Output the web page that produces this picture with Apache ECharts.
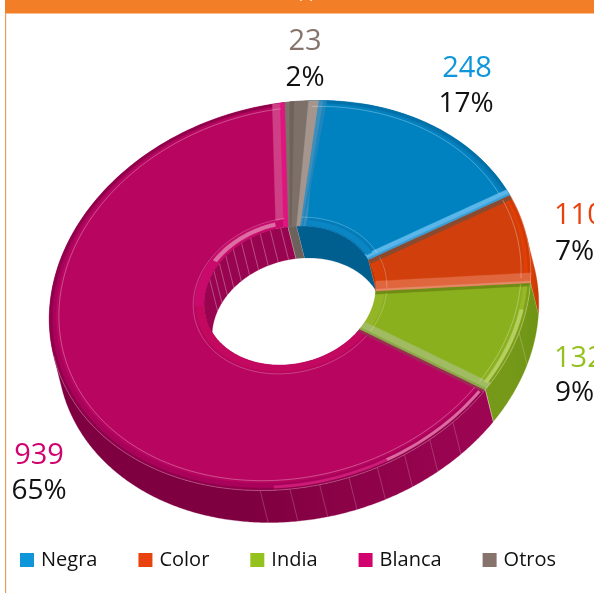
<!DOCTYPE html>
<html><head><meta charset="utf-8">
<style>html,body{margin:0;padding:0;background:#fff;overflow:hidden}#c{width:594px;height:593px}</style>
<script src="https://cdn.jsdelivr.net/npm/echarts@6/dist/echarts.min.js"></script>
</head><body><div id="c"></div>
<script>
var categories = ['Negra','Color','India','Blanca','Otros'];
var values = [248,110,132,939,23];
var percents = [17,7,9,65,2];
var labelColors = ['#0f96da','#e8420f','#95c11f','#d0036f','#85736c'];
var legendColors = ['#0f96da','#e8420f','#95c11f','#d0036f','#85736c'];
var faceColors = ['#0081c0','#d03f0c','#8ab01e','#b80660','#85776f'];
var rimColors = ['#0a78b4','#e23f04','#98b82a','#a8025a','#8b7d76'];
var edgeColors = ['#0070a8','#cf3a08','#7f9f18','#8f014a','#766963'];
var innerBandColors = ['#0a78b2','#d8400a','#94b626','#c2085f','#7a6d67'];
var innerWallColors = ['#005f8e','#b5370a','#6f9414','#98044f','#6d615b'];
var outerWallFrom = ['#005f8e','#d84005','#76991a','#7f0040','#6d615b'];
var outerWallTo = ['#005f8e','#c43a05','#6f9414','#9e0553','#6d615b'];
var endStrip = ['#5ab6e8','#e0663e','#a0bb62','#cf3f86','#a5958d'];
var endStripEdge = ['#3a9fd8','#e58a68','#8ba846','#e0157f','#b0a199'];
var startStrip = ['#3c8fbb','#8a4a30','#6f8c14','#9b2a55','#6c5f59'];

var CX = 290, CY = 295.5, AX = 239, SH = -29, AY = 195;
var RI = 0.357, OFFX = 8, OFFY = 32, START = -2.5;
var FACE_LIFT = -2;
var total = values.reduce(function (a, b) { return a + b; }, 0);
var D = Math.PI / 180;

function pt(r, a, dep) {
  var u = Math.sin(a * D), v = -Math.cos(a * D);
  return [CX + r * (AX * u + SH * v) + (dep ? OFFX : 0), CY + r * AY * v + (dep ? OFFY : 0)];
}
function arcPts(r, a0, a1, dep, lift) {
  var n = Math.max(2, Math.ceil(Math.abs(a1 - a0) / 1.5)), p = [];
  for (var i = 0; i <= n; i++) {
    var q = pt(r, a0 + (a1 - a0) * i / n, dep);
    if (lift) q[1] += lift;
    p.push(q);
  }
  return p;
}
function poly(points, fill, z) {
  return { type: 'polygon', z2: z, shape: { points: points }, style: { fill: fill, stroke: fill, lineWidth: 0.3 } };
}
function line(points, color, op, w, z) {
  return { type: 'polyline', z2: z, shape: { points: points }, style: { fill: 'none', stroke: color, opacity: op, lineWidth: w } };
}
function sector(r0, r1, a0, a1, fill, z, lift) {
  return poly(arcPts(r1, a0, a1, false, lift).concat(arcPts(r0, a1, a0)), fill, z);
}
// strip with constant pixel width beside a radial edge; dir -1 leads into the slice from its end, +1 from its start
function strip(a, w0, w1, dir, r0, r1, fill, z) {
  var p = [], q = [], n = 12;
  for (var i = 0; i <= n; i++) {
    var r = r0 + (r1 - r0) * i / n;
    p.push(pt(r, a + dir * (w0 / (r * 215)) / D));
    q.unshift(pt(r, a + dir * (w1 / (r * 215)) / D));
  }
  return poly(p.concat(q), fill, z);
}
function visibleRange(a0, a1, outer) {
  var ou = (OFFX - SH * OFFY / AY) / AX, ov = OFFY / AY, res = [];
  for (var a = a0; a <= a1 + 1e-6; a += 0.5) {
    var s = ou * Math.sin(a * D) - ov * Math.cos(a * D);
    if (outer ? s > 0 : s < 0) res.push(a);
  }
  return res;
}
function wall(r, list, fill, z) {
  if (list.length < 2) return [];
  var t = list.map(function (a) { return pt(r, a); });
  var b = list.slice().reverse().map(function (a) { return pt(r, a, true); });
  return [poly(t.concat(b), fill, z)];
}
function sweep(index) {
  var a = START;
  for (var i = 0; i < index; i++) a += values[i] / total * 360;
  return [a, a + values[index] / total * 360];
}
function facet(r, a, op) {
  return line([pt(r, a), pt(r, a, true)], '#fff', op, 0.7, 3);
}

function makeRender(i) {
  return function (params, api) {
    var val = api.value(0), s = sweep(i), a0 = s[0], a1 = s[1], c = [];
    // outer wall
    c = c.concat(wall(1, visibleRange(a0, a1, true), {
      type: 'linear', x: 0, y: 0, x2: 1, y2: 0,
      colorStops: [{ offset: 0, color: outerWallFrom[i] }, { offset: 0.45, color: outerWallFrom[i] }, { offset: 1, color: outerWallTo[i] }]
    }, 1));
    // inner wall
    c = c.concat(wall(RI, visibleRange(a0, a1, false), innerWallColors[i], 1));
    // top surface
    c.push(sector(RI, 1, a0, a1, rimColors[i], 5));
    c.push(sector(0.988, 1, a0, a1, edgeColors[i], 6));
    c.push(sector(RI + 0.035, 0.972, a0, a1, faceColors[i], 7, FACE_LIFT));
    c.push(sector(RI, RI + 0.035, a0, a1, innerBandColors[i], 7));
    // radial bevels
    var be = [7, 11, 9, 11, 0][i], bs = [9, 5, 3.5, 3, 0][i];
    if (i !== 4) {
      c.push(strip(a0, 0, bs, 1, RI, 1, startStrip[i], 8));
      c.push(strip(a1, 0, be, -1, RI, 1, endStrip[i], 8));
      c.push(strip(a1, 0, i === 3 ? 4 : 2, -1, RI, 1, endStripEdge[i], 9));
    } else {
      var m = (a0 + a1) / 2;
      c.push(sector(RI, 1, a0, a1, '#7d7068', 8));
      c.push(sector(RI, 1, a0 + 1.2, m - 0.6, '#6f625b', 8));
    }
    if (i === 0) {
      // the neighbouring grey bevel spills onto this slice's leading edge
      c.push(sector(RI, 1, a0, a0 + 2.5, '#a5958d', 9));
      c.push(sector(RI, 1, a0 + 2.5, a0 + 3.6, '#3c8fbb', 9));
      c.push(sector(RI, 1, a0 + 3.6, a0 + 4.4, '#1f86bd', 9));
    }
    // thin pale inset lines
    if (i !== 4) {
      c.push(line(arcPts(0.96, a0 + 1, a1 - 1, false, FACE_LIFT), '#fff', 0.42, 0.7, 10));
      c.push(line(arcPts(RI + 0.045, a0 + 2, a1 - 2), '#fff', 0.34, 0.7, 10));
      c.push(line(arcPts(1, Math.max(a0, 72), Math.min(a1, 252)), '#fff', 0.45, 0.6, 10));
    }
    // sheen and wall facets per slice
    if (i === 3) {
      c.push(sector(0.976, 0.99, a0 + 1, a0 + 30, '#dc6a9f', 9));
      c.push(sector(0.976, 0.99, a0 + 30, a0 + 58, '#cc1c78', 9));
      c.push(sector(RI + 0.002, RI + 0.04, a1 - 90, a1 - 3, '#c80a6c', 8));
      c.push(sector(RI + 0.012, RI + 0.032, a1 - 54, a1 - 8, '#dd6ea3', 9));
      for (var f = 130.5; f <= 181; f += 7.1) c.push(facet(1, f, 0.28));
      for (var g = a1 - 5; g > a1 - 75; g -= 7) c.push(facet(RI, g, 0.42));
    }
    if (i === 2) {
      c.push(sector(0.972, 0.988, a0 + 8, a1 - 2, '#b5cf62', 9));
      c.push(facet(1, 101, 0.3));
    }
    if (i === 0) {
      c.push(sector(RI + 0.004, RI + 0.03, a0 + 6, a1 - 4, '#0a86c4', 9));
    }
    // value and percentage labels
    var lb = labelLayout[i];
    c.push({ type: 'text', z2: 20, style: { text: String(val), x: lb[0], y: lb[1], align: lb[2], verticalAlign: 'middle', fill: labelColors[i], font: '400 29px "Open Sans"' } });
    c.push({ type: 'text', z2: 20, style: { text: percents[i] + '%', x: lb[3], y: lb[4], align: lb[2], verticalAlign: 'middle', fill: '#111', font: '400 28px "Open Sans"' } });
    return { type: 'group', children: c };
  };
}
var labelLayout = [
  [467, 69, 'center', 466, 104],
  [554, 216, 'left', 555, 252],
  [554, 359, 'left', 555, 393],
  [39, 456, 'center', 39, 491],
  [305, 42, 'center', 305, 78]
];

var chart = echarts.init(document.getElementById('c'), null, { renderer: 'canvas' });
chart.setOption({
  animation: false,
  backgroundColor: '#fff',
  legend: {
    left: 15, top: 545, itemWidth: 14, itemHeight: 14, itemGap: 41, icon: 'rect', selectedMode: false,
    textStyle: { fontFamily: 'Open Sans', fontSize: 20, color: '#111', padding: [0, 0, 0, 2] },
    data: categories.map(function (n, i) { return { name: n, itemStyle: { color: legendColors[i] } }; })
  },
  graphic: [
    { type: 'rect', z: 0, shape: { x: 5, y: 0, width: 589, height: 13.5 }, style: { fill: '#f27f27' } },
    { type: 'rect', z: 0, shape: { x: 5, y: 13, width: 1.2, height: 580 }, style: { fill: '#f29a5a' } },
    { type: 'text', z: 1, style: { text: 'д', x: 300, y: 2, verticalAlign: 'bottom', fill: '#fff', font: '20px "Noto Sans"' } }
  ],
  series: categories.map(function (n, i) {
    return {
      type: 'custom', name: n, coordinateSystem: 'none', silent: true, clip: false,
      itemStyle: { color: legendColors[i] },
      data: [[values[i]]],
      renderItem: makeRender(i)
    };
  })
});
</script></body></html>
